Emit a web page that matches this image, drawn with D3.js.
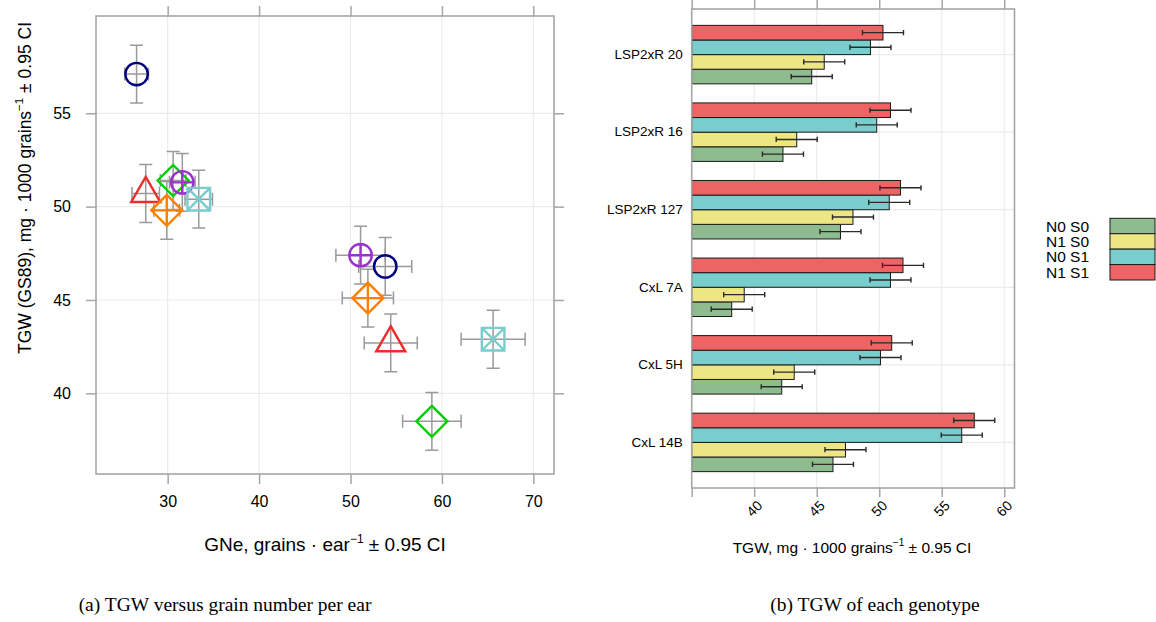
<!DOCTYPE html>
<html>
<head>
<meta charset="utf-8">
<script src="https://cdn.jsdelivr.net/npm/d3@7/dist/d3.min.js"></script>
<style>
	body { margin: 0; background: #fff; }
	svg { font-family: 'Liberation Sans', Arial, sans-serif; }
</style>
</head>
<body>
<svg id="fig" width="1156" height="622"></svg>
<script>
// genotypes (bottom to top in panel b)
const genotypes = [ 'CxL 14B', 'CxL 5H', 'CxL 7A', 'LSP2xR 127', 'LSP2xR 16', 'LSP2xR 20' ];
const markerShapes = [ 'circle', 'triangle', 'diamond', 'circlePlus', 'squareX', 'diamondPlus' ];
const markerColors = [ '#000080', '#ee2c2c', '#00cd00', '#9a32cd', '#79cdcd', '#ff8000' ];

// panel a: grain number per ear vs TGW, S1 and S0 means
const gneS1 = [ 26.6, 27.6, 30.6, 31.6, 33.4, 29.9 ];
const tgwS1 = [ 57.1, 50.7, 51.4, 51.3, 50.4, 49.8 ];
const gneCiS1 = [ 1.3, 1.5, 1.4, 1.4, 1.5, 1.4 ];
const gneS0 = [ 53.8, 54.4, 58.9, 51.1, 65.6, 51.9 ];
const tgwS0 = [ 46.8, 42.7, 38.5, 47.4, 42.9, 45.1 ];
const gneCiS0 = [ 2.9, 2.9, 3.2, 2.7, 3.5, 2.8 ];
const tgwCi = [ 1.55, 1.55, 1.55, 1.55, 1.55, 1.55 ];
const scatterXTicks = [ 30, 40, 50, 60, 70 ];
const scatterYTicks = [ 40, 45, 50, 55 ];

// panel b: TGW per treatment
const treatments = [ 'N0 S0', 'N1 S0', 'N0 S1', 'N1 S1' ];
const treatmentColors = [ '#8fbc8f', '#eee685', '#79cdcd', '#ee6363' ];
const tgwN0S0 = [ 46.3, 42.2, 38.2, 46.9, 42.3, 44.6 ];
const tgwN1S0 = [ 47.3, 43.2, 39.2, 47.9, 43.4, 45.6 ];
const tgwN0S1 = [ 56.6, 50.1, 50.9, 50.8, 49.8, 49.3 ];
const tgwN1S1 = [ 57.6, 51.0, 51.9, 51.7, 50.9, 50.3 ];
const barCi = [ 1.64, 1.64, 1.64, 1.64, 1.64, 1.64 ];
const barTicks = [ 35, 40, 45, 50, 55, 60 ];

const svg = d3.select('#fig');
const boxColor = '#a6a6a6';
const gridColor = '#ebebeb';

const styleAxis = (g) => {
	g.select('.domain').remove();
	g.selectAll('.tick line').attr('stroke', boxColor).attr('stroke-width', 1.5);
	g.selectAll('.tick text').attr('fill', '#000');
};

// ---------- panel a ----------
const xA = d3.scaleLinear().domain([ 22.16, 72.26 ]).range([ 96, 554 ]);
const yA = d3.scaleLinear().domain([ 35.68, 60.21 ]).range([ 474, 16 ]);

const gA = svg.append('g');

gA.selectAll('.vgrid').data(scatterXTicks).enter().append('line')
	.attr('x1', (d) => xA(d)).attr('x2', (d) => xA(d))
	.attr('y1', yA.range()[1]).attr('y2', yA.range()[0])
	.attr('stroke', gridColor).attr('stroke-width', 1.2);
gA.selectAll('.hgrid').data(scatterYTicks).enter().append('line')
	.attr('y1', (d) => yA(d)).attr('y2', (d) => yA(d))
	.attr('x1', xA.range()[0]).attr('x2', xA.range()[1])
	.attr('stroke', gridColor).attr('stroke-width', 1.2);

gA.append('g').attr('transform', `translate(0, ${yA.range()[0]})`)
	.style('font-size', '16px')
	.call(d3.axisBottom(xA).tickValues(scatterXTicks).tickSize(10).tickPadding(12))
	.call(styleAxis);
gA.append('g').attr('transform', `translate(0, ${yA.range()[1]})`)
	.call(d3.axisTop(xA).tickValues(scatterXTicks).tickSize(10).tickFormat(''))
	.call(styleAxis);
gA.append('g').attr('transform', `translate(${xA.range()[0]}, 0)`)
	.style('font-size', '16px')
	.call(d3.axisLeft(yA).tickValues(scatterYTicks).tickSize(10).tickPadding(15))
	.call(styleAxis);
gA.append('g').attr('transform', `translate(${xA.range()[1]}, 0)`)
	.call(d3.axisRight(yA).tickValues(scatterYTicks).tickSize(10).tickFormat(''))
	.call(styleAxis);

gA.append('rect')
	.attr('x', xA.range()[0]).attr('y', yA.range()[1])
	.attr('width', xA.range()[1] - xA.range()[0]).attr('height', yA.range()[0] - yA.range()[1])
	.attr('fill', 'none').attr('stroke', boxColor).attr('stroke-width', 1.6);

const points = [];
genotypes.forEach((g, i) => {
	points.push({ g, i, x: gneS1[i], y: tgwS1[i], xe: gneCiS1[i], ye: tgwCi[i] });
	points.push({ g, i, x: gneS0[i], y: tgwS0[i], xe: gneCiS0[i], ye: tgwCi[i] });
});

// error bars
const cap = 6.5;
const errG = gA.append('g').attr('stroke', '#9a9a9a').attr('stroke-width', 1.5).attr('fill', 'none');
points.forEach((p) => {
	const cx = xA(p.x), cy = yA(p.y);
	const x0 = xA(p.x - p.xe), x1 = xA(p.x + p.xe);
	const y0 = yA(p.y - p.ye), y1 = yA(p.y + p.ye);
	errG.append('path').attr('d',
		`M${x0},${cy}H${x1}M${x0},${cy - cap}V${cy + cap}M${x1},${cy - cap}V${cy + cap}` +
		`M${cx},${y0}V${y1}M${cx - cap},${y0}H${cx + cap}M${cx - cap},${y1}H${cx + cap}`);
});

// markers
const markerPath = (shape, cx, cy) => {
	const r = 11.2, dm = 15.5, sq = 11.3, side = 29;
	const circle = `M${cx - r},${cy}A${r},${r} 0 1,0 ${cx + r},${cy}A${r},${r} 0 1,0 ${cx - r},${cy}Z`;
	const diamond = `M${cx},${cy - dm}L${cx + dm},${cy}L${cx},${cy + dm}L${cx - dm},${cy}Z`;
	if (shape === 'circle') return circle;
	if (shape === 'circlePlus') return circle + `M${cx - r},${cy}H${cx + r}M${cx},${cy - r}V${cy + r}`;
	if (shape === 'diamond') return diamond;
	if (shape === 'diamondPlus') return diamond + `M${cx - dm},${cy}H${cx + dm}M${cx},${cy - dm}V${cy + dm}`;
	if (shape === 'squareX') {
		return `M${cx - sq},${cy - sq}H${cx + sq}V${cy + sq}H${cx - sq}Z` +
			`M${cx - sq},${cy - sq}L${cx + sq},${cy + sq}M${cx + sq},${cy - sq}L${cx - sq},${cy + sq}`;
	}
	const h = side * Math.sqrt(3) / 2;
	return `M${cx},${cy - 2 * h / 3}L${cx + side / 2},${cy + h / 3}L${cx - side / 2},${cy + h / 3}Z`;
};

gA.selectAll('.marker').data(points).enter().append('path')
	.attr('d', (p) => markerPath(markerShapes[p.i], xA(p.x), yA(p.y)))
	.attr('fill', 'none')
	.attr('stroke', (p) => markerColors[p.i])
	.attr('stroke-width', 2.4)
	.attr('stroke-linejoin', 'miter');

// axis titles panel a
const xTitleA = gA.append('text').attr('x', 325).attr('y', 551)
	.attr('text-anchor', 'middle').style('font-size', '19px');
xTitleA.append('tspan').text('GNe, grains \u00b7 ear');
xTitleA.append('tspan').attr('dy', -8).style('font-size', '12px').text('\u22121');
xTitleA.append('tspan').attr('dy', 8).text(' \u00b1 0.95 CI');

const yTitleA = gA.append('text')
	.attr('transform', 'translate(31, 188) rotate(-90)')
	.attr('text-anchor', 'middle').style('font-size', '17.5px');
yTitleA.append('tspan').text('TGW (GS89), mg \u00b7 1000 grains');
yTitleA.append('tspan').attr('dy', -8).style('font-size', '11.5px').text('\u22121');
yTitleA.append('tspan').attr('dy', 8).text(' \u00b1 0.95 CI');

// ---------- panel b ----------
const xB = d3.scaleLinear().domain([ 35, 60.82 ]).range([ 691.7, 1014.5 ]);
const boxB = { top: 9, bottom: 488 };
const yB = d3.scaleBand().domain(genotypes.slice().reverse())
	.range([ boxB.top, boxB.bottom ]).paddingInner(0.246).paddingOuter(0.211);
const barOrder = [ 'N1 S1', 'N0 S1', 'N1 S0', 'N0 S0' ];
const yInner = d3.scaleBand().domain(barOrder).range([ 0, yB.bandwidth() ]);

const gB = svg.append('g');

gB.selectAll('.vgrid').data(barTicks.slice(1)).enter().append('line')
	.attr('x1', (d) => xB(d)).attr('x2', (d) => xB(d))
	.attr('y1', boxB.top).attr('y2', boxB.bottom)
	.attr('stroke', gridColor).attr('stroke-width', 1.2);
gB.selectAll('.hgrid').data(genotypes).enter().append('line')
	.attr('y1', (d) => yB(d) + yB.bandwidth() / 2).attr('y2', (d) => yB(d) + yB.bandwidth() / 2)
	.attr('x1', xB.range()[0]).attr('x2', xB.range()[1])
	.attr('stroke', gridColor).attr('stroke-width', 1.2);

const bottomB = gB.append('g').attr('transform', `translate(0, ${boxB.bottom})`)
	.style('font-size', '14px')
	.call(d3.axisBottom(xB).tickValues(barTicks).tickSize(9).tickFormat((d) => (d === 35 ? '' : d)))
	.call(styleAxis);
bottomB.selectAll('.tick text')
	.attr('text-anchor', 'end')
	.attr('dy', '0.35em')
	.attr('transform', 'translate(5, 15) rotate(-45)')
	.attr('y', 0).attr('x', 0);
gB.append('g').attr('transform', `translate(0, ${boxB.top})`)
	.call(d3.axisTop(xB).tickValues(barTicks).tickSize(9).tickFormat(''))
	.call(styleAxis);
gB.append('g').attr('transform', `translate(${xB.range()[0]}, 0)`)
	.style('font-size', '13.5px')
	.call(d3.axisLeft(yB).tickSize(0).tickPadding(9))
	.call(styleAxis);

const series = { 'N0 S0': tgwN0S0, 'N1 S0': tgwN1S0, 'N0 S1': tgwN0S1, 'N1 S1': tgwN1S1 };
const bars = [];
genotypes.forEach((g, i) => {
	treatments.forEach((t, j) => {
		bars.push({ g, t, v: series[t][i], ci: barCi[i], color: treatmentColors[j] });
	});
});

gB.selectAll('.bar').data(bars).enter().append('rect')
	.attr('x', xB(35))
	.attr('y', (d) => yB(d.g) + yInner(d.t))
	.attr('width', (d) => xB(d.v) - xB(35))
	.attr('height', yInner.bandwidth())
	.attr('fill', (d) => d.color)
	.attr('stroke', '#1a1a1a').attr('stroke-width', 1);

const capB = 2.6;
gB.selectAll('.err').data(bars).enter().append('path')
	.attr('d', (d) => {
		const cy = yB(d.g) + yInner(d.t) + yInner.bandwidth() / 2;
		const x0 = xB(d.v - d.ci), x1 = xB(d.v + d.ci);
		return `M${x0},${cy}H${x1}M${x0},${cy - capB}V${cy + capB}M${x1},${cy - capB}V${cy + capB}`;
	})
	.attr('fill', 'none').attr('stroke', '#2a2a2a').attr('stroke-width', 1.4);

gB.append('rect')
	.attr('x', xB.range()[0]).attr('y', boxB.top)
	.attr('width', xB.range()[1] - xB.range()[0]).attr('height', boxB.bottom - boxB.top)
	.attr('fill', 'none').attr('stroke', boxColor).attr('stroke-width', 1.6);

const xTitleB = gB.append('text').attr('x', 852).attr('y', 553)
	.attr('text-anchor', 'middle').style('font-size', '15.5px');
xTitleB.append('tspan').text('TGW, mg \u00b7 1000 grains');
xTitleB.append('tspan').attr('dy', -7).style('font-size', '10px').text('\u22121');
xTitleB.append('tspan').attr('dy', 7).text(' \u00b1 0.95 CI');

// legend
const legend = gB.append('g');
const legY = d3.scaleBand().domain(treatments).range([ 218.3, 280 ]);
legend.selectAll('rect').data(treatments).enter().append('rect')
	.attr('x', 1110).attr('y', (d) => legY(d))
	.attr('width', 45).attr('height', legY.bandwidth())
	.attr('fill', (d, j) => treatmentColors[j])
	.attr('stroke', '#1a1a1a').attr('stroke-width', 1);
legend.selectAll('text').data(treatments).enter().append('text')
	.attr('x', 1046).attr('y', (d) => legY(d) + legY.bandwidth() / 2)
	.attr('dy', '0.36em')
	.style('font-size', '15.5px')
	.text((d) => d);

// captions
svg.append('text').attr('x', 225).attr('y', 611).attr('text-anchor', 'middle')
	.style('font-family', "'Liberation Serif', 'DejaVu Serif', serif").style('font-size', '19.5px')
	.text('(a) TGW versus grain number per ear');
svg.append('text').attr('x', 875).attr('y', 611).attr('text-anchor', 'middle')
	.style('font-family', "'Liberation Serif', 'DejaVu Serif', serif").style('font-size', '19.5px')
	.text('(b) TGW of each genotype');
</script>
</body>
</html>
